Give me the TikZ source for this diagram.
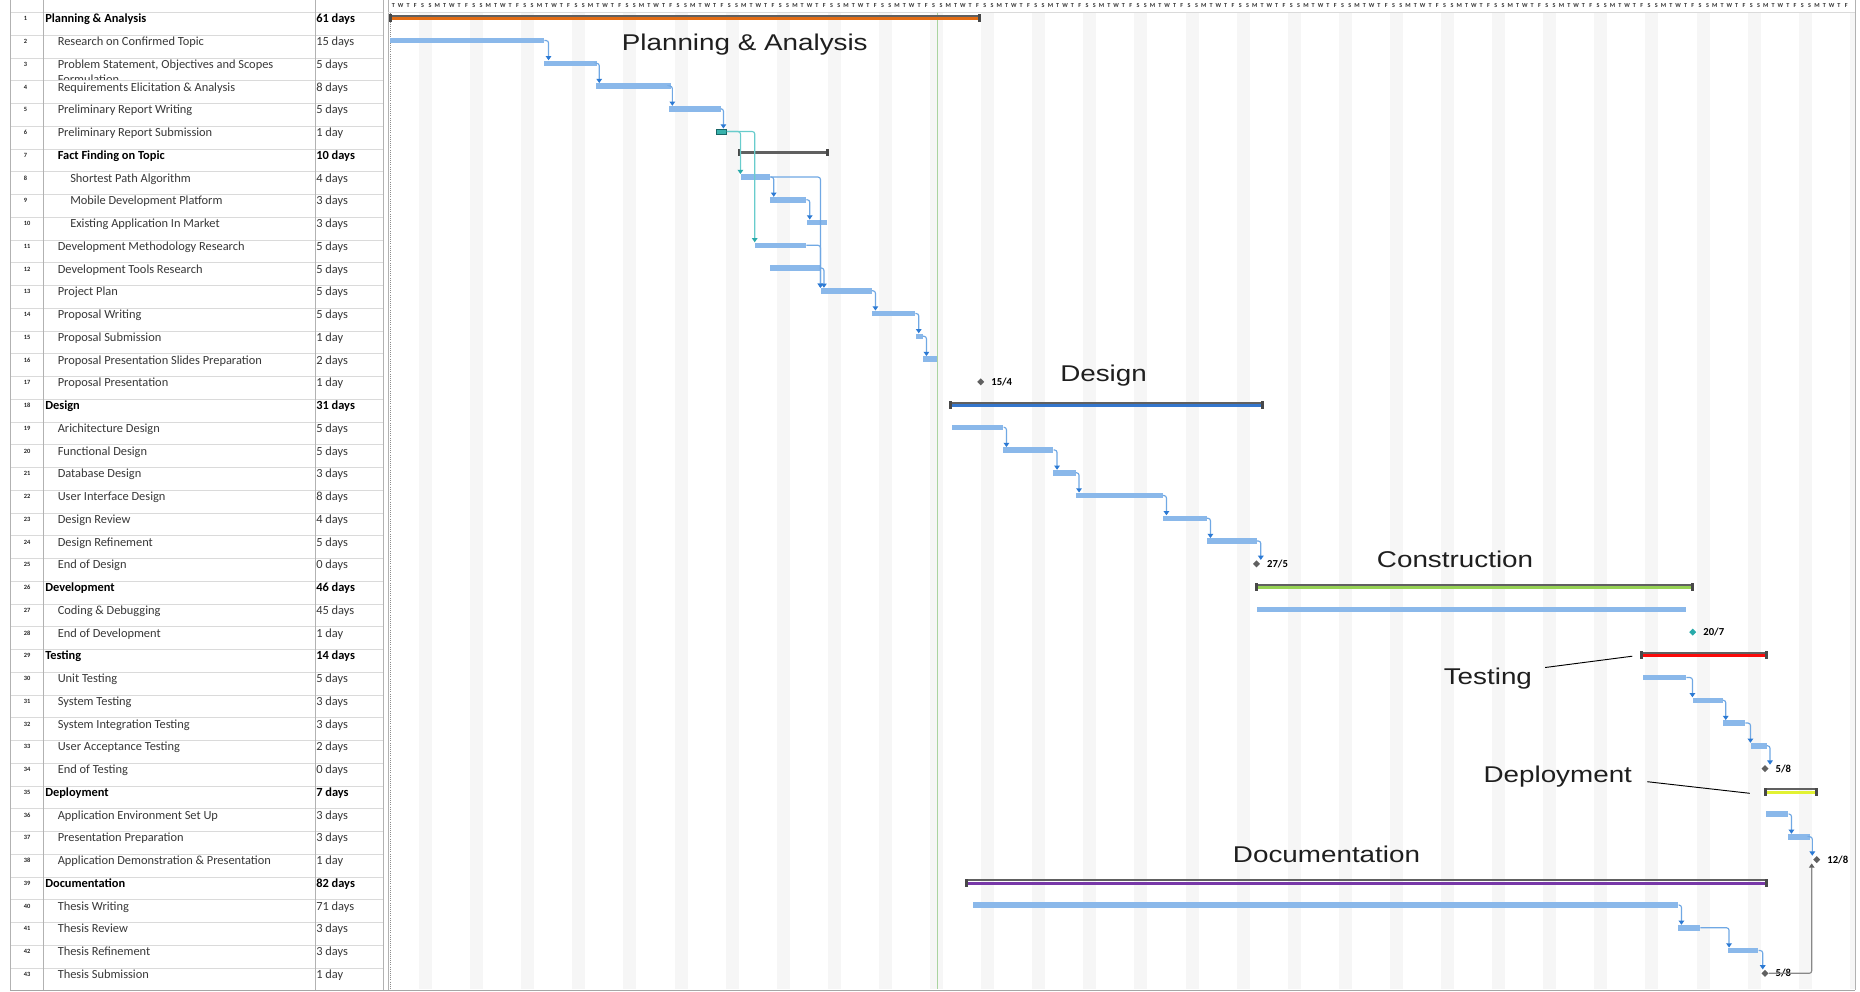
\documentclass[tikz,border=0pt]{standalone}
\usepackage{fontspec}
\setmainfont{Carlito}
\newfontfamily\labelfont{Liberation Sans}
\usetikzlibrary{arrows.meta,shapes.geometric,calc}

\definecolor{taskblue}{RGB}{138,184,234}
\definecolor{linkblue}{RGB}{112,168,228}
\definecolor{tipblue}{RGB}{44,122,212}
\definecolor{tealbar}{RGB}{56,178,172}
\definecolor{teallinkc}{RGB}{104,204,204}
\definecolor{tealtip}{RGB}{40,170,170}
\definecolor{sumgrey}{RGB}{96,96,96}
\definecolor{capgrey}{RGB}{72,72,72}
\definecolor{planorange}{RGB}{226,108,20}
\definecolor{designblue}{RGB}{52,118,204}
\definecolor{devgreen}{RGB}{150,210,84}
\definecolor{testred}{RGB}{250,10,10}
\definecolor{deployyellow}{RGB}{226,242,50}
\definecolor{docpurple}{RGB}{120,56,168}
\definecolor{gridgrey}{RGB}{218,218,218}
\definecolor{weekend}{RGB}{246,246,246}
\definecolor{statusgreen}{RGB}{170,212,160}
\definecolor{textgrey}{RGB}{56,56,56}

% vertical centre of table row #1 (pixel units, y grows downwards)
\newcommand\ry[1]{(18.8+(#1-1)*22.75)}

% task bar: [style]{name}{x start}{x end}{row}
\newcommand\taskbar[5][taskbar]{%
  \node[#1, minimum width={(#4-#3)*0.75pt}] (#2) at ({(#3+#4)/2},{\ry{#5}-1}) {};}

% summary bar: {name}{x start}{x end}{row}{colour}
\newcommand\summarybar[5]{%
  \fill[sumgrey] (#2,{\ry{#4}-3.9}) rectangle (#3,{\ry{#4}-1.9});
  \fill[#5] (#2,{\ry{#4}-1.7}) rectangle (#3,{\ry{#4}+1.3});
  \fill[capgrey] ({#2-1},{\ry{#4}-4.6}) rectangle ({#2+2},{\ry{#4}+3.2});
  \fill[capgrey] ({#3-2},{\ry{#4}-4.6}) rectangle ({#3+1},{\ry{#4}+3.2});
  \node[sumnode, minimum width={(#3-#2)*0.75pt}] (#1) at ({(#2+#3)/2},{\ry{#4}}) {};}

% milestone: [style]{name}{x}{row}{date}
\newcommand\milestone[5][mstone]{%
  \node[#1] (#2) at (#3,{\ry{#4}-1}) {};
  \node[mslabel, anchor=west] (#2lbl) at ($(#2.east)+(6.5,0)$) {#5};}

% finish-to-start links: [style]{from}{to}{x offset of the drop}
\newcommand\flink[4][link]{\draw[#1] (#2.east) -| ($(#3.north west)+(#4,0)$);}
\newcommand\mlink[4][link]{\draw[#1] (#2.east) -| ($(#3.north)+(#4,0)$);}

\begin{document}
\begin{tikzpicture}[x=0.75pt,y=-0.75pt,
  taskbar/.style={rectangle, fill=taskblue, inner sep=0pt, minimum height=4.1pt},
  tealtask/.style={taskbar, fill=tealbar, draw=tealtip!60!black, line width=0.4pt},
  sumnode/.style={rectangle, inner sep=0pt, minimum height=6pt},
  mstone/.style={diamond, fill=sumgrey, inner sep=0pt, minimum size=5.4pt},
  tealstone/.style={mstone, fill=tealtip},
  mslabel/.style={inner sep=0pt, font=\fontsize{8}{8}\selectfont\bfseries, text=black},
  link/.style={draw=linkblue, line width=0.85pt, rounded corners=1.8pt,
    -{Triangle[width=4.2pt,length=3.2pt,color=tipblue]}},
  teallink/.style={link, draw=teallinkc, -{Triangle[width=4.2pt,length=3.2pt,color=tealtip]}},
  greylink/.style={link, draw=sumgrey!75, -{Triangle[width=4.2pt,length=3.2pt,color=sumgrey]}},
  phaselabel/.style={inner sep=0pt, anchor=base west, font=\labelfont\fontsize{17.1}{20}\selectfont, text=black!88},
  leader/.style={draw=black, line width=0.7pt},
  gridline/.style={draw=gridgrey, line width=0.6pt},
  cell/.style={inner sep=0pt, anchor=base west, font=\fontsize{9.3}{11}\selectfont, text=textgrey},
  idcell/.style={inner sep=0pt, anchor=base west, font=\fontsize{4.8}{5}\selectfont\bfseries, text=black!85},
  dayletter/.style={inner sep=0pt, font=\fontsize{4.6}{5}\selectfont\bfseries, text=black!80},
]
\useasboundingbox (0,0) rectangle (1860,992);
\fill[white] (0,0) rectangle (1860,992);

% non-working-day shading
\begin{scope}
  \clip (388,12.5) rectangle (1855,989);
  \foreach \k in {0,...,28}
    \fill[weekend] ({419+51.1*\k},12.5) rectangle ({432+51.1*\k},989);
\end{scope}

% timescale day letters
\foreach \k in {0,...,28}{
  \foreach \L [count=\j from 0] in {T,W,T,F,S,S,M}{
    \pgfmathsetmacro\hx{389.8+51.1*\k+7.3*(\j+0.5)}
    \ifdim\hx pt<1852pt
      \node[dayletter] (day-\k-\j) at (\hx,6) {\L};
    \fi
  }
}

% table and chart frame
\foreach \i in {1,...,44}
  \draw[gridline] (10,{12.5+(\i-1)*22.75}) -- (383,{12.5+(\i-1)*22.75});
\foreach \xx in {10,43,315,383,388,1855}
  \draw[gridline, draw=black!30] (\xx,0) -- (\xx,990);
\draw[gridline, draw=black!35] (10,990) -- (1855,990);
\draw[gridline] (388,12.5) -- (1855,12.5);

% status date and project start
\draw[statusgreen, line width=0.9pt] (937.5,12.5) -- (937.5,989);
\draw[black!45, line width=0.6pt, densely dotted] (390.5,13) -- (390.5,989);

% table cells
\foreach \i/\lvl/\name/\dur in {
  1/0/Planning \& Analysis/61 days,
  2/1/Research on Confirmed Topic/15 days,
  3/1/{Problem Statement, Objectives and Scopes}/5 days,
  4/1/Requirements Elicitation \& Analysis/8 days,
  5/1/Preliminary Report Writing/5 days,
  6/1/Preliminary Report Submission/1 day,
  7/1/{}/{},
  8/2/Shortest Path Algorithm/4 days,
  9/2/Mobile Development Platform/3 days,
  10/2/Existing Application In Market/3 days,
  11/1/Development Methodology Research/5 days,
  12/1/Development Tools Research/5 days,
  13/1/Project Plan/5 days,
  14/1/Proposal Writing/5 days,
  15/1/Proposal Submission/1 day,
  16/1/Proposal Presentation Slides Preparation/2 days,
  17/1/Proposal Presentation/1 day,
  18/0/Design/31 days,
  19/1/Arichitecture Design/5 days,
  20/1/Functional Design/5 days,
  21/1/Database Design/3 days,
  22/1/User Interface Design/8 days,
  23/1/Design Review/4 days,
  24/1/Design Refinement/5 days,
  25/1/End of Design/0 days,
  26/0/Development/46 days,
  27/1/Coding \& Debugging/45 days,
  28/1/End of Development/1 day,
  29/0/Testing/14 days,
  30/1/Unit Testing/5 days,
  31/1/System Testing/3 days,
  32/1/System Integration Testing/3 days,
  33/1/User Acceptance Testing/2 days,
  34/1/End of Testing/0 days,
  35/0/Deployment/7 days,
  36/1/Application Environment Set Up/3 days,
  37/1/Presentation Preparation/3 days,
  38/1/Application Demonstration \& Presentation/1 day,
  39/0/Documentation/82 days,
  40/1/Thesis Writing/71 days,
  41/1/Thesis Review/3 days,
  42/1/Thesis Refinement/3 days,
  43/1/Thesis Submission/1 day}{
  \node[idcell] (id\i) at (23.5,{\ry{\i}+2}) {\i};
  \node[cell] (name\i) at ({45+12.5*\lvl},{\ry{\i}+4})
    {\ifnum\lvl=0 \bfseries\color{black}\fi\name};
  \node[cell] (dur\i) at (316,{\ry{\i}+4})
    {\ifnum\lvl=0 \bfseries\color{black}\fi\dur};
}
% bold sub-summary row and the wrapped second line of task 3
\node[cell, text=black, font=\fontsize{9.3}{11}\selectfont\bfseries] (name7b) at (57.5,{\ry{7}+4}) {Fact Finding on Topic};
\node[cell, text=black, font=\fontsize{9.3}{11}\selectfont\bfseries] (dur7b) at (316,{\ry{7}+4}) {10 days};
\begin{scope}
  \clip (44,58) rectangle (314,79.8);
  \node[cell] (name3b) at (57.5,{\ry{3}+19}) {Formulation};
\end{scope}

% summary bars
\summarybar{s1}{390}{980}{1}{planorange}
\fill[sumgrey] (739.3,{\ry{7}-4.2}) rectangle (828.3,{\ry{7}-1.8});
\fill[capgrey] (738.3,{\ry{7}-6.5}) rectangle (741.3,{\ry{7}+0.5});
\fill[capgrey] (826.3,{\ry{7}-6.5}) rectangle (829.3,{\ry{7}+0.5});
\node[sumnode, minimum width={(828.3-739.3)*0.75pt}] (s7) at ({(739.3+828.3)/2},{\ry{7}-3}) {};
\summarybar{s18}{950}{1263}{18}{designblue}
\summarybar{s26}{1256}{1692.7}{26}{devgreen}
\summarybar{s29}{1641}{1766.7}{29}{testred}
\summarybar{s35}{1765}{1816.7}{35}{deployyellow}
\summarybar{s39}{966}{1766.7}{39}{docpurple}

% task bars
\taskbar{b2}{390}{544}{2}
\taskbar{b3}{544}{596.7}{3}
\taskbar{b4}{595.5}{670.6}{4}
\taskbar{b5}{668.6}{720.5}{5}
\taskbar[tealtask]{b6}{716.7}{726.7}{6}
\taskbar{b8}{740.7}{770}{8}
\taskbar{b9}{770}{806}{9}
\taskbar{b10}{806.7}{827.3}{10}
\taskbar{b11}{755}{806}{11}
\taskbar{b12}{770}{820.7}{12}
\taskbar{b13}{820.7}{871.7}{13}
\taskbar{b14}{871.7}{915}{14}
\taskbar{b15}{915.7}{922.7}{15}
\taskbar{b16}{922.7}{936.7}{16}
\taskbar{b19}{951.7}{1003.3}{19}
\taskbar{b20}{1002.7}{1053.3}{20}
\taskbar{b21}{1053.3}{1075.7}{21}
\taskbar{b22}{1075.7}{1162.7}{22}
\taskbar{b23}{1162.7}{1206.7}{23}
\taskbar{b24}{1206.7}{1256.7}{24}
\taskbar{b27}{1256.7}{1686}{27}
\taskbar{b30}{1642.7}{1686}{30}
\taskbar{b31}{1692.7}{1722.7}{31}
\taskbar{b32}{1722.7}{1745}{32}
\taskbar{b33}{1750.7}{1766.7}{33}
\taskbar{b36}{1766}{1788.3}{36}
\taskbar{b37}{1788.3}{1810}{37}
\taskbar{b40}{973.3}{1678.3}{40}
\taskbar{b41}{1678.3}{1700}{41}
\taskbar{b42}{1728.3}{1758.3}{42}

% milestones
\milestone{m17}{980.7}{17}{15/4}
\milestone{m25}{1256.5}{25}{27/5}
\milestone[tealstone]{m28}{1692.7}{28}{20/7}
\milestone{m34}{1765}{34}{5/8}
\milestone{m38}{1816.7}{38}{12/8}
\milestone{m43}{1765}{43}{5/8}

% dependency links
\flink{b2}{b3}{4.8}
\flink{b3}{b4}{4}
\flink{b4}{b5}{4}
\flink{b5}{b6}{7}
\flink[teallink]{b6}{b8}{0}
\flink[teallink]{b6}{b11}{0}
\flink{b8}{b9}{4}
\flink{b9}{b10}{3.3}
\flink{b8}{b13}{0}
\flink{b11}{b13}{0}
\flink{b12}{b13}{3.5}
\flink{b13}{b14}{4}
\flink{b14}{b15}{3.3}
\flink{b15}{b16}{4}
\flink{b19}{b20}{4}
\flink{b20}{b21}{4}
\flink{b21}{b22}{3.6}
\flink{b22}{b23}{4}
\flink{b23}{b24}{4}
\mlink{b24}{m25}{4.3}
\flink{b30}{b31}{0}
\flink{b31}{b32}{3.3}
\flink{b32}{b33}{0}
\mlink{b33}{m34}{5}
\flink{b36}{b37}{3.4}
\mlink{b37}{m38}{-4.4}
\flink{b40}{b41}{3.4}
\flink{b41}{b42}{1}
\mlink{b42}{m43}{-2.3}
\draw[greylink] (m43.east) -| ($(m38.south)+(-5,0)$);

% phase labels
\node[phaselabel] (lblPlan) at (621.6,50) {\scalebox{1.22}[1]{Planning \& Analysis}};
\node[phaselabel] (lblDesign) at (1060,381.7) {\scalebox{1.22}[1]{Design}};
\node[phaselabel] (lblBuild) at (1376.7,567.7) {\scalebox{1.22}[1]{Construction}};
\node[phaselabel] (lblTest) at (1443.5,684) {\scalebox{1.22}[1]{Testing}};
\node[phaselabel] (lblDeploy) at (1483.3,782.7) {\scalebox{1.22}[1]{Deployment}};
\node[phaselabel] (lblDoc) at (1232.7,862.7) {\scalebox{1.22}[1]{Documentation}};
\draw[leader] ($(lblTest.base east)+(13,-16.5)$) -- ($(s29.west)+(-8.5,0.4)$);
\draw[leader] ($(lblDeploy.base east)+(15,-1)$) -- ($(s35.west)+(-15,1)$);
\end{tikzpicture}
\end{document}
